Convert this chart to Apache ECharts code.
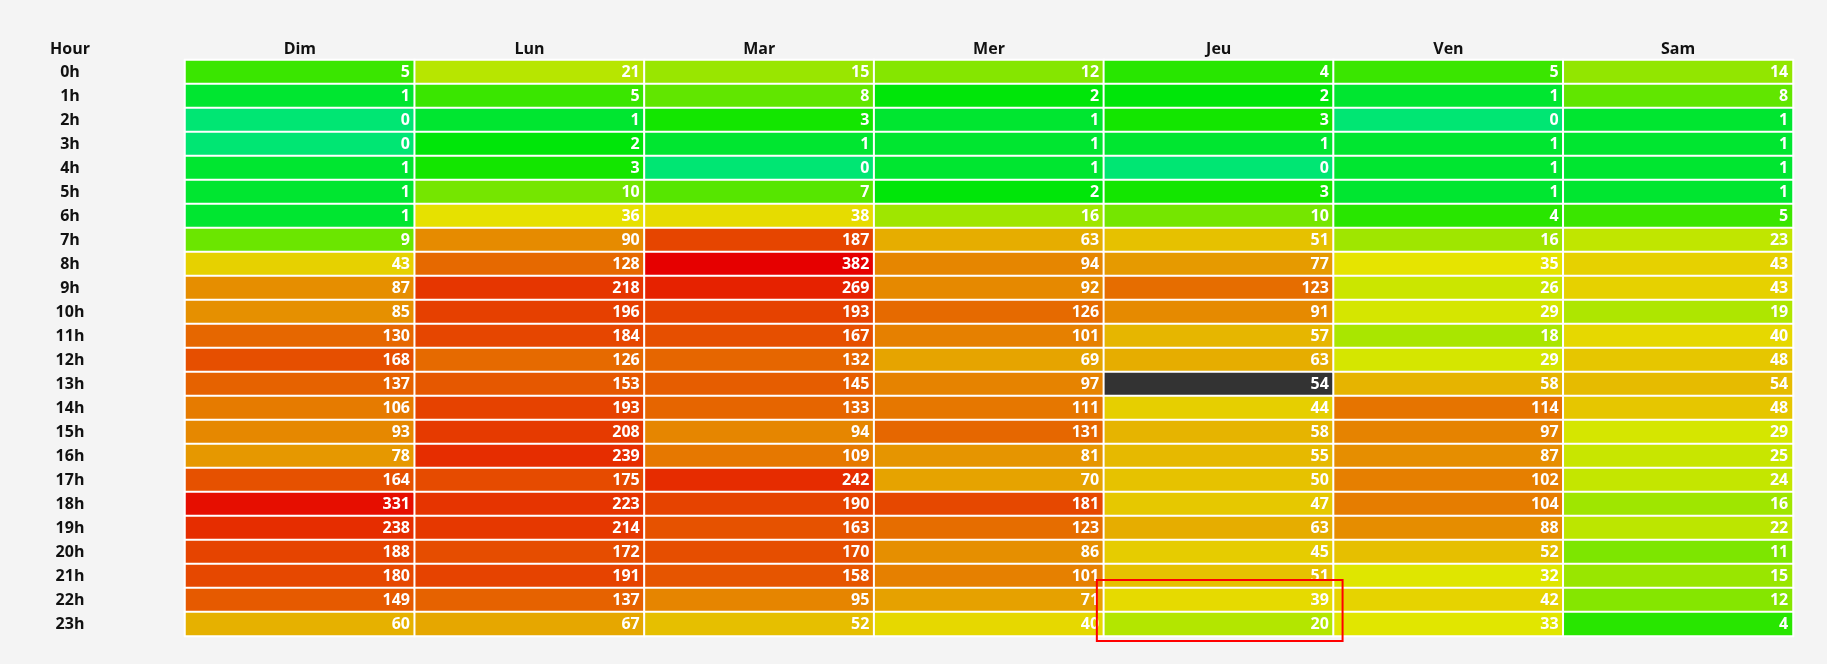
<!DOCTYPE html>
<html>
<head>
<meta charset="utf-8">
<style>
html,body{margin:0;padding:0;background:#f4f4f4;}
#c{width:1827px;height:664px;}
</style>
<script src="https://cdn.jsdelivr.net/npm/echarts@6/dist/echarts.min.js"></script>
</head>
<body>
<div id="c"></div>
<script>
// ---- data ----
const days = ['Dim', 'Lun', 'Mar', 'Mer', 'Jeu', 'Ven', 'Sam'];
const hours = ['0h','1h','2h','3h','4h','5h','6h','7h','8h','9h','10h','11h',
               '12h','13h','14h','15h','16h','17h','18h','19h','20h','21h','22h','23h'];
const dim = [5,1,0,0,1,1,1,9,43,87,85,130,168,137,106,93,78,164,331,238,188,180,149,60];
const lun = [21,5,1,2,3,10,36,90,128,218,196,184,126,153,193,208,239,175,223,214,172,191,137,67];
const mar = [15,8,3,1,0,7,38,187,382,269,193,167,132,145,133,94,109,242,190,163,170,158,95,52];
const mer = [12,2,1,1,1,2,16,63,94,92,126,101,69,97,111,131,81,70,181,123,86,101,71,40];
const jeu = [4,2,3,1,0,3,10,51,77,123,91,57,63,54,44,58,55,50,47,63,45,51,39,20];
const ven = [5,1,0,1,1,1,4,16,35,26,29,18,29,58,114,97,87,102,104,88,52,32,42,33];
const sam = [14,8,1,1,1,1,5,23,43,43,19,40,48,54,48,29,25,24,16,22,11,15,12,4];
const columns = [dim, lun, mar, mer, jeu, ven, sam];
const yAxisTitle = 'Hour';
const highlightedCell = ['Jeu', '13h'];
const annotatedCells = [['Jeu', '22h'], ['Jeu', '23h']];

// ---- colour scale (hue green -> red, log scale) ----
function hsvToHex(h, s, v) {
  const c = v * s, hp = h / 60, x = c * (1 - Math.abs(hp % 2 - 1));
  let r = 0, g = 0, b = 0;
  if (hp < 1) { r = c; g = x; } else if (hp < 2) { r = x; g = c; }
  else if (hp < 3) { g = c; b = x; } else if (hp < 4) { g = x; b = c; }
  else if (hp < 5) { r = x; b = c; } else { r = c; b = x; }
  const m = v - c;
  const to = t => Math.round((t + m) * 255).toString(16).padStart(2, '0');
  return '#' + to(r) + to(g) + to(b);
}
const maxVal = Math.max(...columns.map(c => Math.max(...c)));
function cellColor(v) {
  const h = 150 * (1 - Math.log(v + 1) / Math.log(maxVal + 1));
  return hsvToHex(h, 1, 0.9);
}

const seriesData = [];
columns.forEach((col, di) => {
  col.forEach((v, hi) => {
    const isHi = days[di] === highlightedCell[0] && hours[hi] === highlightedCell[1];
    seriesData.push({ value: [di, hi, v], itemStyle: { color: isHi ? '#333333' : cellColor(v) } });
  });
});

const FONT = '"Open Sans", "Noto Sans", sans-serif';
const chart = echarts.init(document.getElementById('c'), null, { renderer: 'canvas' });
chart.setOption({
  backgroundColor: '#f4f4f4',
  animation: false,
  grid: { left: 185, right: 34, top: 60, bottom: 28 },
  xAxis: {
    type: 'category', data: days, position: 'top',
    axisLine: { show: false }, axisTick: { show: false }, splitLine: { show: false },
    axisLabel: { color: '#111', fontSize: 16, fontWeight: 'bold', fontFamily: FONT, margin: 3 }
  },
  yAxis: {
    type: 'category', data: hours, inverse: true,
    axisLine: { show: false }, axisTick: { show: false }, splitLine: { show: false },
    axisLabel: { color: '#111', fontSize: 16, fontWeight: 'bold', fontFamily: FONT, align: 'center', margin: 115 }
  },
  series: [{
    type: 'heatmap',
    data: seriesData,
    itemStyle: { borderColor: '#ffffff', borderWidth: 2 },
    emphasis: { disabled: true },
    label: {
      show: true, position: 'insideRight', distance: 6,
      color: '#ffffff', fontSize: 16, fontWeight: 'bold', fontFamily: FONT,
      formatter: p => p.value[2]
    }
  }]
});

// overlays: axis title and annotation rectangle
const p1 = chart.convertToPixel({ seriesIndex: 0 }, [days.indexOf(annotatedCells[0][0]), hours.indexOf(annotatedCells[0][1])]);
const p2 = chart.convertToPixel({ seriesIndex: 0 }, [days.indexOf(annotatedCells[1][0]), hours.indexOf(annotatedCells[1][1])]);
const q = chart.convertToPixel({ seriesIndex: 0 }, [1, 1]);
const q0 = chart.convertToPixel({ seriesIndex: 0 }, [0, 0]);
const cw = q[0] - q0[0], ch = q[1] - q0[1];
const gridTop = q0[1] - ch / 2;
chart.setOption({
  graphic: [
    {
      type: 'text', x: 70, y: gridTop - 11,
      style: { text: yAxisTitle, align: 'center', verticalAlign: 'middle', fill: '#111', font: 'bold 16px ' + FONT }
    },
    {
      type: 'rect',
      shape: {
        x: p1[0] - cw / 2 - 7, y: p1[1] - ch / 2 - 8,
        width: cw + 16, height: (p2[1] - p1[1]) + ch + 13
      },
      style: { fill: 'none', stroke: '#ff0000', lineWidth: 2 },
      z: 100
    }
  ]
});
</script>
</body>
</html>
